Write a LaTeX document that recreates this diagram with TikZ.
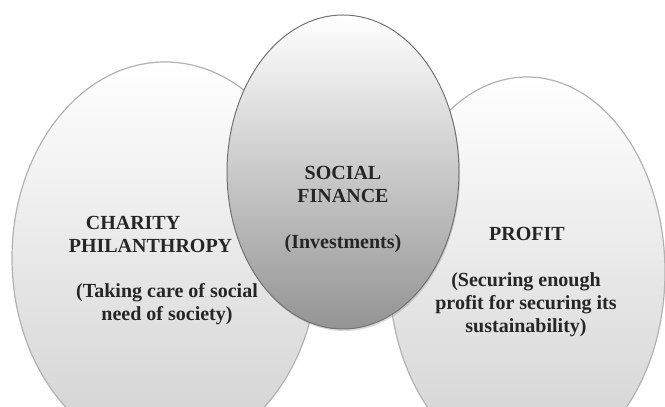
\documentclass[tikz,border=0pt]{standalone}
\usepackage{fontspec}
\setmainfont{Liberation Serif}
\usetikzlibrary{shapes.geometric, shadows}
\tikzset{
  bubble/.style={ellipse, draw=black!30, line width=1.2pt, inner sep=0pt,
    top color=white, bottom color=black!18}, % the two outer sets
  hub/.style={ellipse, draw=black!55, line width=1pt, inner sep=0pt,
    top color=white, bottom color=black!42,
    drop shadow={opacity=0.3, shadow xshift=1pt, shadow yshift=-2pt}}, % the middle set
  heading/.style={font=\bfseries\fontsize{20}{23}\selectfont,
    text=black!85, align=center, inner sep=0pt},
}

\begin{document}
\begin{tikzpicture}[x=1pt, y=1pt]
    \useasboundingbox (0,0) rectangle (665,407);

    % outer sets first, the middle one lies over both
    \node[bubble, minimum width=306pt, minimum height=392pt] (charity) at (165,149) {};
    \node[bubble, minimum width=276pt, minimum height=390pt] (profit) at (527,135) {};
    \node[hub, minimum width=232pt, minimum height=314pt] (finance) at (343,235) {};

    \node[heading, align=left] (charity_title) at (150.5,172.5)
      {\hspace*{17pt}CHARITY\\PHILANTHROPY};
    \node[heading] (charity_note) at (167,103)
      {(Taking care of social\\need of society)};

    \node[heading] (finance_title) at (343,222.5) {SOCIAL\\FINANCE};
    \node[heading] (finance_note) at (343,163) {(Investments)};

    \node[heading] (profit_title) at (527,173) {PROFIT};
    \node[heading] (profit_note) at (526,102)
      {(Securing enough\\profit for securing its\\sustainability)};
\end{tikzpicture}
\end{document}
